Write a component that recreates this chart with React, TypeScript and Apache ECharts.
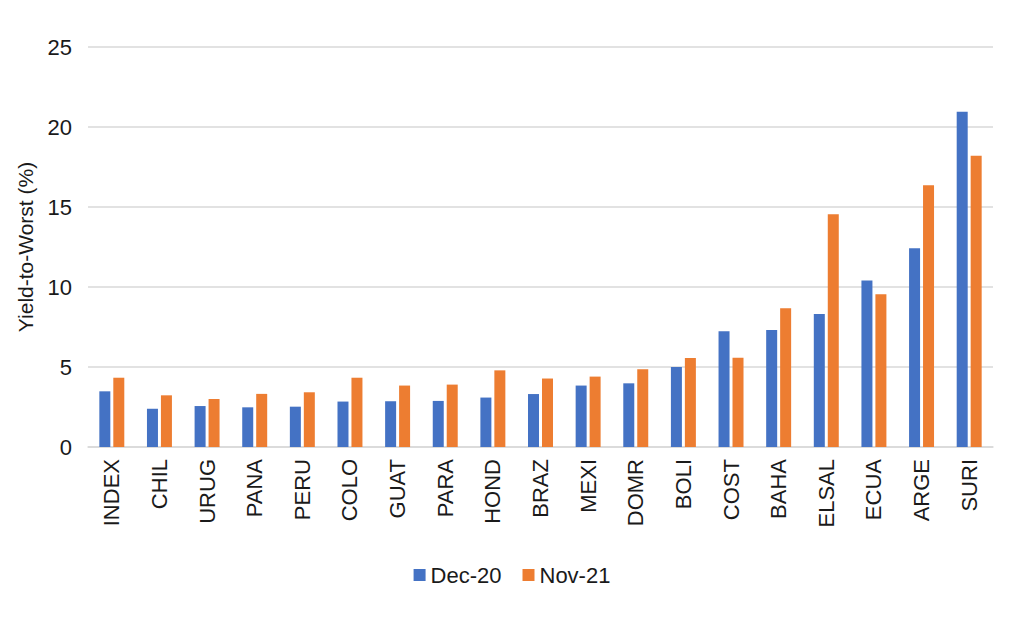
import React, { useEffect, useRef } from "react";
import * as echarts from "echarts";

const categories = ["INDEX", "CHIL", "URUG", "PANA", "PERU", "COLO", "GUAT", "PARA", "HOND", "BRAZ", "MEXI", "DOMR", "BOLI", "COST", "BAHA", "ELSAL", "ECUA", "ARGE", "SURI"];
const dec20 = [3.48, 2.39, 2.56, 2.48, 2.52, 2.84, 2.86, 2.88, 3.09, 3.31, 3.84, 3.98, 5.0, 7.23, 7.32, 8.32, 10.4, 12.42, 20.95];
const nov21 = [4.33, 3.23, 3.0, 3.32, 3.42, 4.33, 3.84, 3.9, 4.79, 4.28, 4.4, 4.86, 5.56, 5.58, 8.67, 14.55, 9.55, 16.36, 18.2];
const yTicks = [0, 5, 10, 15, 20, 25];

export default function App() {
  const ref = useRef<HTMLDivElement>(null);
  useEffect(() => {
    const chart = echarts.init(ref.current!, null, { renderer: "svg" });
    const font = "'Liberation Sans', Arial, sans-serif";
    chart.setOption({
      animation: false,
      textStyle: { fontFamily: font },
      legend: {
        bottom: 27,
        left: "center",
        itemWidth: 12,
        itemHeight: 12,
        itemGap: 21,
        icon: "rect",
        textStyle: { fontSize: 22, color: "#1a1a1a", fontFamily: font },
        data: ["Dec-20", "Nov-21"],
      },
      grid: { left: 88, right: 31, top: 47, bottom: 171 },
      xAxis: {
        type: "category",
        data: categories,
        axisLine: { lineStyle: { color: "#d9d9d9", width: 1.5 } },
        axisTick: { show: false },
        axisLabel: { rotate: 90, fontSize: 22, color: "#1a1a1a", margin: 12, fontFamily: font },
      },
      yAxis: {
        type: "value",
        min: yTicks[0],
        max: yTicks[yTicks.length - 1],
        interval: 5,
        name: "Yield-to-Worst (%)",
        nameLocation: "middle",
        nameGap: 52,
        nameTextStyle: { fontSize: 21, color: "#1a1a1a", fontFamily: font },
        axisLine: { show: false },
        axisTick: { show: false },
        axisLabel: { fontSize: 22, color: "#1a1a1a", margin: 16, fontFamily: font },
        splitLine: { lineStyle: { color: "#d9d9d9", width: 1.5 } },
      },
      series: [
        {
          name: "Dec-20",
          type: "bar",
          data: dec20,
          barWidth: 11,
          barGap: "27%",
          itemStyle: { color: "#4472C4" },
        },
        {
          name: "Nov-21",
          type: "bar",
          data: nov21,
          barWidth: 11,
          itemStyle: { color: "#ED7D31" },
        },
      ],
    });
    return () => chart.dispose();
  }, []);
  return <div ref={ref} style={{ width: 1024, height: 618, margin: -8, background: "#fff" }} />;
}
